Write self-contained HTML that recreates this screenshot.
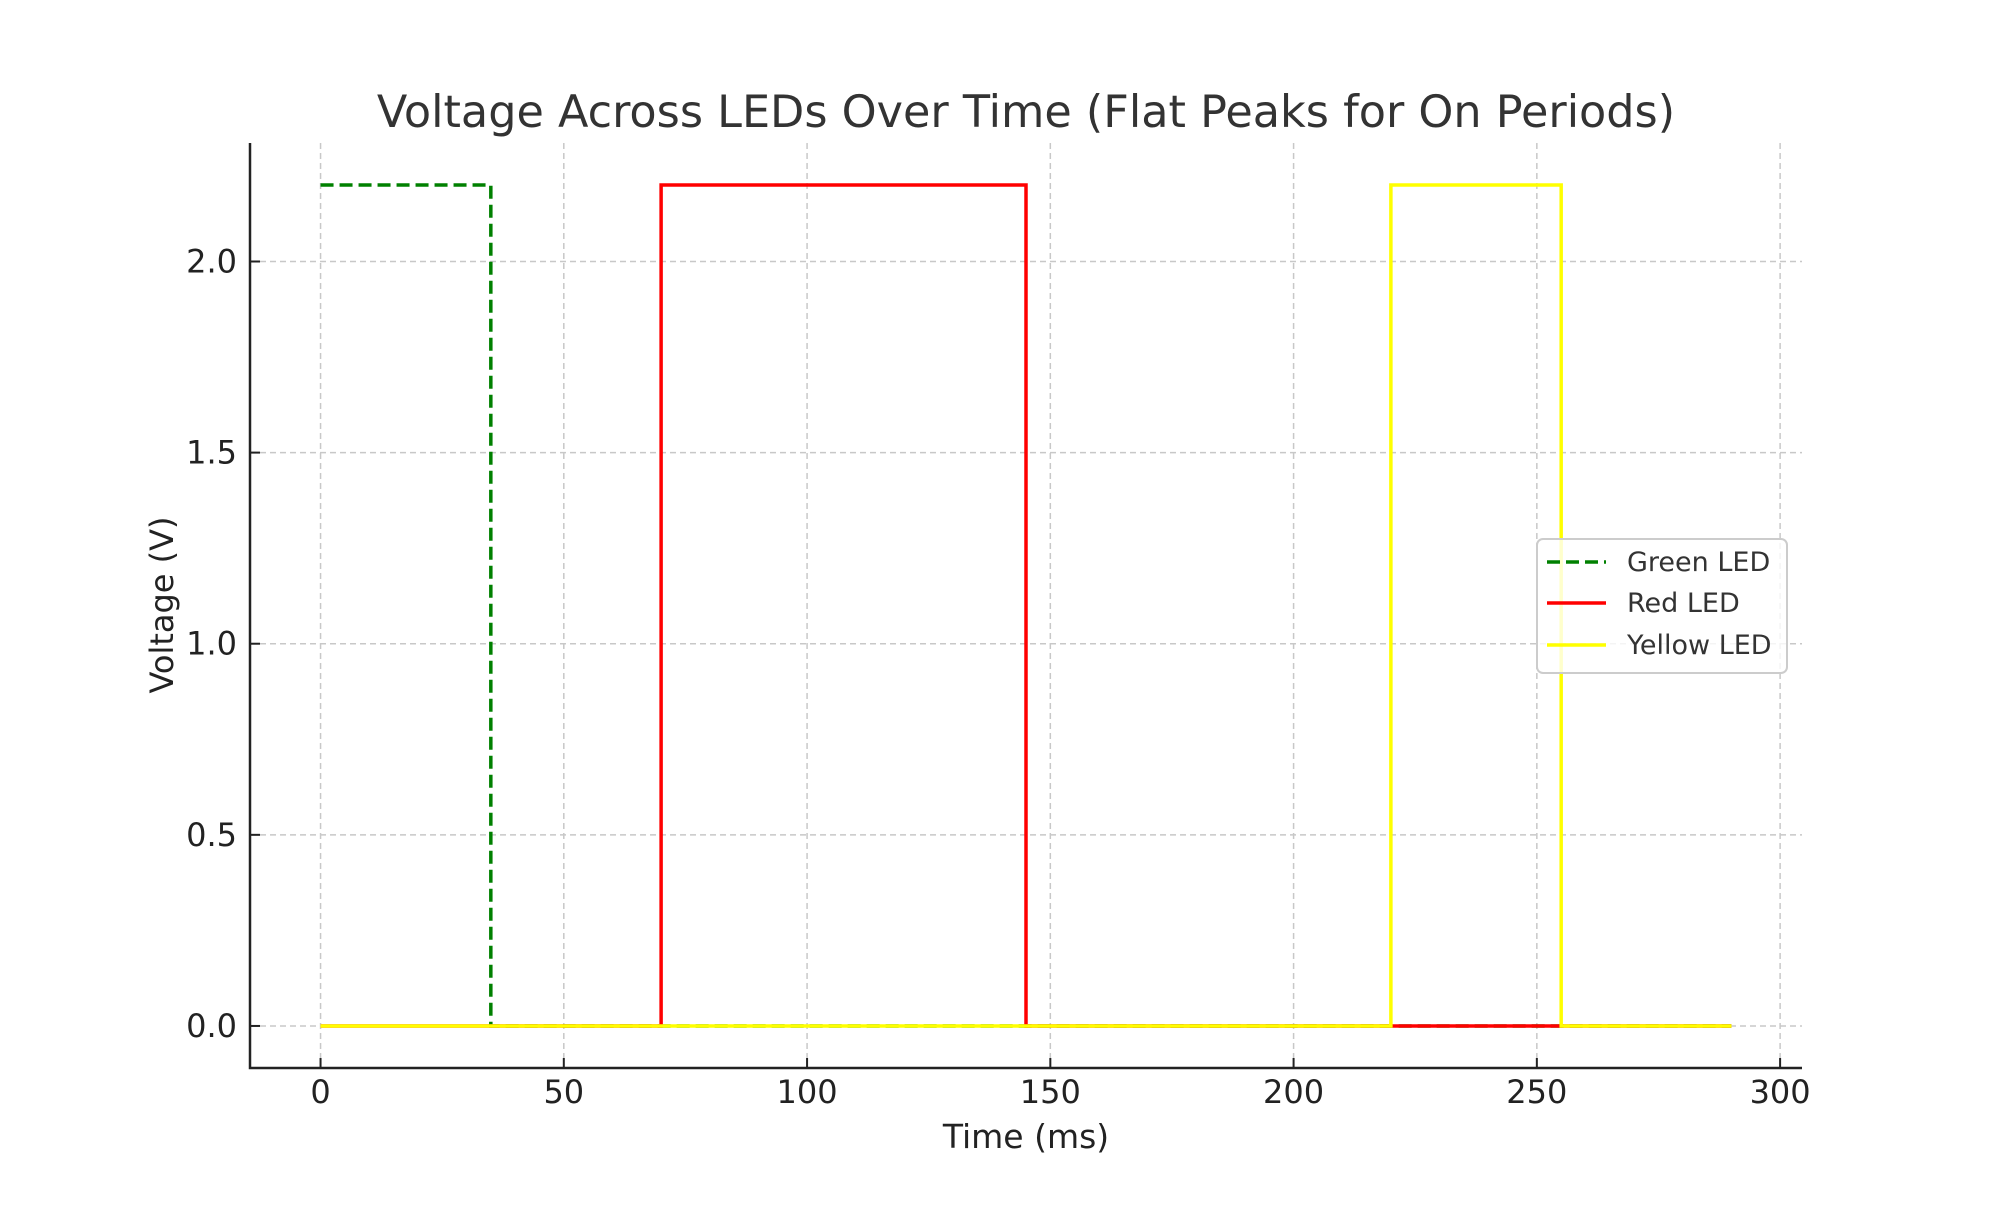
<!DOCTYPE html>
<html><head><meta charset="utf-8"><style>
html,body{margin:0;padding:0;background:#fff;}
svg text{font-family:"DejaVu Sans","Liberation Sans",sans-serif;}
</style></head><body>
<svg id="chart" width="2000" height="1200" viewBox="0 0 2000 1200" xmlns="http://www.w3.org/2000/svg">
<rect width="2000" height="1200" fill="#fff"/>
<g id="grid"></g>
<g id="series"></g>
<g id="axes"></g>
<text x="1026" y="127" font-size="44.5" fill="#333" text-anchor="middle">Voltage Across LEDs Over Time (Flat Peaks for On Periods)</text>
<text x="1026" y="1148" font-size="33" fill="#222" text-anchor="middle">Time (ms)</text>
<text x="0" y="0" font-size="32" fill="#222" text-anchor="middle" transform="translate(173,605) rotate(-90)">Voltage (V)</text>
<g id="legend">
<rect x="1537" y="539" width="250" height="134" rx="6" fill="#fff" fill-opacity="0.8" stroke="#ccc" stroke-width="2"/>
<g><line x1="1547" y1="562" x2="1606" y2="562" stroke="#008000" stroke-width="3.5" stroke-dasharray="13,6"/><text x="1627" y="571" font-size="27" fill="#333">Green LED</text></g>
<g><line x1="1547" y1="603" x2="1606" y2="603" stroke="#ff0000" stroke-width="3.5"/><text x="1627" y="612" font-size="27" fill="#333">Red LED</text></g>
<g><line x1="1547" y1="645" x2="1606" y2="645" stroke="#ffff00" stroke-width="3.5"/><text x="1627" y="654" font-size="27" fill="#333">Yellow LED</text></g>
</g>
</svg>
<script>
const times = [0, 35, 70, 145, 220, 255, 290];
const greenV = [2.2, 0, 0, 0, 0, 0, 0];
const redV = [0, 0, 2.2, 0, 0, 0, 0];
const yellowV = [0, 0, 0, 0, 2.2, 0, 0];
const xTicks = [0, 50, 100, 150, 200, 250, 300];
const yTicks = [0.0, 0.5, 1.0, 1.5, 2.0];

const L=250,R=1802,T=143,B=1068;
const xMin=-14.5,xMax=304.5,yMin=-0.11,yMax=2.31;
const X=v=>L+(v-xMin)/(xMax-xMin)*(R-L);
const Y=v=>B-(v-yMin)/(yMax-yMin)*(B-T);
const NS='http://www.w3.org/2000/svg';
function mk(tag,attrs,parent){const e=document.createElementNS(NS,tag);for(const k in attrs)e.setAttribute(k,attrs[k]);parent.appendChild(e);return e;}
const grid=document.getElementById('grid'),axes=document.getElementById('axes'),series=document.getElementById('series');

xTicks.forEach(t=>{
  const g=mk('line',{x1:X(t),x2:X(t),y1:T,y2:B,stroke:'#c8c8c8','stroke-width':1.5,'stroke-dasharray':'6,4'},grid);
  
  
  const tk=mk('line',{x1:X(t),x2:X(t),y1:B,y2:B-10,stroke:'#222','stroke-width':2},axes);
  
  
  const tx=mk('text',{x:X(t),y:1103,'font-size':32,fill:'#222','text-anchor':'middle'},axes);
  tx.textContent=String(t);
  
  
});
yTicks.forEach(t=>{
  const g=mk('line',{x1:L,x2:R,y1:Y(t),y2:Y(t),stroke:'#c8c8c8','stroke-width':1.5,'stroke-dasharray':'6,4'},grid);
  
  
  const tk=mk('line',{x1:L,x2:L+10,y1:Y(t),y2:Y(t),stroke:'#222','stroke-width':2},axes);
  
  
  const tx=mk('text',{x:237,y:Y(t)+11,'font-size':32,fill:'#222','text-anchor':'end'},axes);
  tx.textContent=t.toFixed(1);
  
  
});
const ax=mk('path',{d:`M${L},${T} L${L},${B} L${R},${B}`,fill:'none',stroke:'#222','stroke-width':2.5},axes);



function stepPath(vals){
  let d=`M${X(times[0])},${Y(vals[0])}`;
  for(let i=1;i<times.length;i++){
    d+=` L${X(times[i])},${Y(vals[i-1])} L${X(times[i])},${Y(vals[i])}`;
  }
  return d;
}
const gp=mk('path',{d:stepPath(greenV),fill:'none',stroke:'#008000','stroke-width':3.5,'stroke-dasharray':'13,6'},series);


const rp=mk('path',{d:stepPath(redV),fill:'none',stroke:'#ff0000','stroke-width':3.5},series);


const yp=mk('path',{d:stepPath(yellowV),fill:'none',stroke:'#ffff00','stroke-width':3.5},series);


</script>
</body></html>
